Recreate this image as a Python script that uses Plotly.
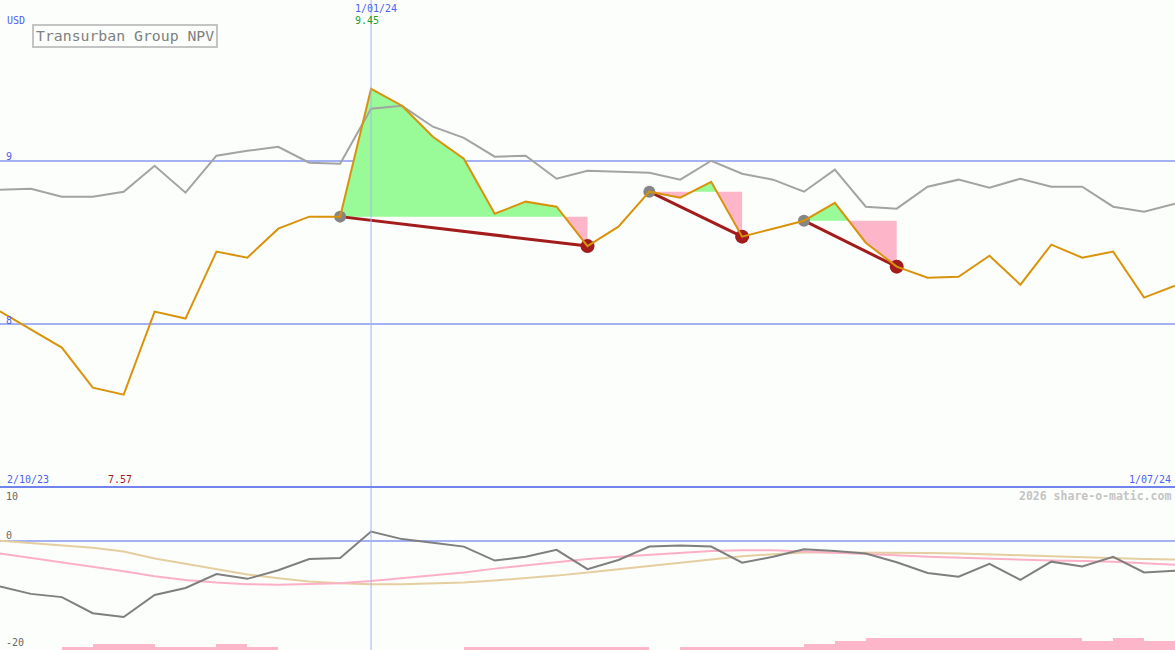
import pandas as pd
import plotly.graph_objects as go
from plotly.subplots import make_subplots

# ---------------- data ----------------
dates = list(pd.date_range("2023-10-09", periods=39, freq="7D"))

price = [8.079, 7.966, 7.856, 7.610, 7.567, 8.077, 8.034, 8.445, 8.408, 8.586,
         8.660, 8.660, 9.445, 9.341, 9.150, 9.015, 8.678, 8.752, 8.721, 8.479,
         8.598, 8.813, 8.776, 8.874, 8.537, 8.586, 8.635, 8.745, 8.500, 8.353,
         8.285, 8.291, 8.420, 8.242, 8.488, 8.408, 8.445, 8.163, 8.236]

index_line = [8.825, 8.831, 8.782, 8.782, 8.813, 8.972, 8.807, 9.034, 9.064, 9.089,
              8.991, 8.985, 9.322, 9.340, 9.212, 9.144, 9.028, 9.034, 8.893, 8.942,
              8.936, 8.929, 8.887, 9.003, 8.923, 8.887, 8.813, 8.948, 8.721, 8.709,
              8.844, 8.887, 8.837, 8.893, 8.844, 8.844, 8.721, 8.690, 8.739]

pattern_start = [11, 21, 26]
pattern_end = [19, 24, 29]

osc = [-8.5, -9.9, -10.5, -13.5, -14.2, -10.1, -8.8, -6.2, -7.1, -5.5,
       -3.4, -3.2, 1.7, 0.3, -0.4, -1.1, -3.7, -3.0, -1.7, -5.3,
       -3.6, -1.1, -0.9, -1.1, -4.1, -3.0, -1.6, -1.9, -2.4, -4.0,
       -6.0, -6.7, -4.3, -7.3, -3.9, -4.8, -3.0, -5.9, -5.6]

osc_fast = [-2.4, -3.2, -4.0, -4.9, -5.7, -6.6, -7.3, -7.8, -8.1, -8.2,
            -8.1, -7.9, -7.5, -7.0, -6.4, -5.9, -5.2, -4.6, -4.0, -3.4,
            -3.0, -2.6, -2.2, -1.9, -1.8, -1.8, -2.0, -2.2, -2.4, -2.7,
            -3.0, -3.2, -3.4, -3.6, -3.7, -3.8, -3.9, -4.2, -4.5]

osc_slow = [0.0, -0.4, -0.8, -1.3, -2.0, -3.3, -4.3, -5.3, -6.3, -7.0,
            -7.6, -7.9, -8.1, -8.1, -8.0, -7.8, -7.4, -7.0, -6.5, -5.9,
            -5.3, -4.6, -4.0, -3.4, -2.9, -2.5, -2.2, -2.2, -2.2, -2.2,
            -2.3, -2.4, -2.5, -2.7, -2.9, -3.1, -3.3, -3.4, -3.5]

signal_level = [0, 0, 1, 2, 2, 1, 1, 2, 1, 0,
                0, 0, 0, 0, 0, 1, 1, 1, 1, 1,
                1, 0, 1, 1, 1, 1, 2, 3, 4, 4,
                4, 4, 4, 4, 4, 3, 4, 3, 0]

y_ticks_main = [8, 9]
y_ticks_low = [10, 0, -20]

# ---------------- style ----------------
BG = "#fcfefc"
BLUE_GRID = "#a4b2f4"
BLUE_TXT = "#4f5ff0"
ORANGE = "#d9930b"
GRAY = "#a3a3a3"
DARK_GRAY = "#7f7f7f"
PINK = "#fdb5c9"
GREEN = "#98fb98"
TAN = "#e5cea0"
DARK_RED = "#a31c1c"
FONT = "DejaVu Sans Mono"

MAIN_RANGE = [7.0, 9.99]
LOW_RANGE = [-20.35, 10]
W, H = 1175, 650
SPLIT = 487

fig = make_subplots(rows=2, cols=1, shared_xaxes=True, vertical_spacing=0,
                    row_heights=[SPLIT / H, (H - SPLIT) / H])

# ---------------- pattern fills ----------------
for s, e in zip(pattern_start, pattern_end):
    b = price[s]
    xs = [dates[s]]
    ys = [price[s]]
    for i in range(s, e):
        d0, d1 = price[i] - b, price[i + 1] - b
        if d0 * d1 < 0:
            f = d0 / (d0 - d1)
            xs.append(dates[i] + (dates[i + 1] - dates[i]) * f)
            ys.append(b)
        xs.append(dates[i + 1])
        ys.append(price[i + 1])
    up = [max(v, b) for v in ys]
    dn = [min(v, b) for v in ys]
    for arr, col in ((up, GREEN), (dn, PINK)):
        fig.add_trace(go.Scatter(x=xs + xs[::-1], y=arr + [b] * len(xs),
                                 fill="toself", fillcolor=col, mode="lines",
                                 line=dict(width=0), hoverinfo="skip",
                                 showlegend=False), row=1, col=1)

# index / comparison line
fig.add_trace(go.Scatter(x=dates, y=index_line, mode="lines",
                         line=dict(color=GRAY, width=2), showlegend=False,
                         hoverinfo="skip"), row=1, col=1)

# pattern connector lines
for s, e in zip(pattern_start, pattern_end):
    fig.add_trace(go.Scatter(x=[dates[s], dates[e]], y=[price[s], price[e]],
                             mode="lines", line=dict(color=DARK_RED, width=3),
                             showlegend=False, hoverinfo="skip"), row=1, col=1)

fig.add_trace(go.Scatter(x=[dates[i] for i in pattern_start],
                         y=[price[i] for i in pattern_start], mode="markers",
                         marker=dict(color="#858585", size=12),
                         showlegend=False, hoverinfo="skip"), row=1, col=1)
fig.add_trace(go.Scatter(x=[dates[i] for i in pattern_end],
                         y=[price[i] for i in pattern_end], mode="markers",
                         marker=dict(color=DARK_RED, size=14),
                         showlegend=False, hoverinfo="skip"), row=1, col=1)

# price line
fig.add_trace(go.Scatter(x=dates, y=price, mode="lines",
                         line=dict(color=ORANGE, width=2), showlegend=False,
                         hovertemplate="%{x|%d/%m/%y}: %{y:.2f}<extra></extra>"),
              row=1, col=1)

# ---------------- lower panel ----------------
week = pd.Timedelta(days=7)
bar_x = [d + week / 2 for d in dates]
bar_h = [lv * 0.56 for lv in signal_level]
fig.add_trace(go.Bar(x=bar_x, y=bar_h, base=LOW_RANGE[0],
                     width=week.total_seconds() * 1000,
                     marker=dict(color=PINK, line=dict(width=0)),
                     showlegend=False, hoverinfo="skip"), row=2, col=1)

fig.add_trace(go.Scatter(x=dates, y=osc_slow, mode="lines",
                         line=dict(color=TAN, width=2), showlegend=False,
                         hoverinfo="skip"), row=2, col=1)
fig.add_trace(go.Scatter(x=dates, y=osc_fast, mode="lines",
                         line=dict(color="#fcb0c8", width=2), showlegend=False,
                         hoverinfo="skip"), row=2, col=1)
fig.add_trace(go.Scatter(x=dates, y=osc, mode="lines",
                         line=dict(color=DARK_GRAY, width=2), showlegend=False,
                         hoverinfo="skip"), row=2, col=1)

# ---------------- axes ----------------
xr = [dates[0], dates[-1]]
for r in (1, 2):
    fig.update_xaxes(range=xr, showgrid=False, zeroline=False, showticklabels=False,
                     ticks="", showline=False, row=r, col=1)
fig.update_yaxes(range=MAIN_RANGE, tickvals=y_ticks_main, showticklabels=False,
                 gridcolor=BLUE_GRID, gridwidth=2, zeroline=False, ticks="",
                 row=1, col=1)
fig.update_yaxes(range=LOW_RANGE, tickvals=[0], showticklabels=False,
                 gridcolor=BLUE_GRID, gridwidth=2, zeroline=False, ticks="",
                 row=2, col=1)
fig.update_layout(yaxis=dict(domain=[1 - SPLIT / H, 1]),
                  yaxis2=dict(domain=[0, 1 - SPLIT / H]))

# vertical marker line at the peak date
peak_i = price.index(max(price))
min_i = price.index(min(price))
fig.add_shape(type="line", xref="x", yref="paper", x0=dates[peak_i], x1=dates[peak_i],
              y0=0, y1=1, line=dict(color="#a3b3f8", width=1), layer="above")
# separator between panels
fig.add_shape(type="line", xref="paper", yref="paper", x0=0, x1=1,
              y0=1 - SPLIT / H, y1=1 - SPLIT / H, line=dict(color="#7184ee", width=2))
# title box
fig.add_shape(type="rect", xref="paper", yref="paper",
              x0=33 / W, x1=217 / W, y0=1 - 47 / H, y1=1 - 25 / H,
              line=dict(color="#c4c4c4", width=2), fillcolor=BG)


def ann(text, px, py, color, size=10, anchor="left", bold=False):
    fig.add_annotation(text=f"<b>{text}</b>" if bold else text,
                       x=px / W, y=1 - py / H, xref="paper", yref="paper",
                       xanchor=anchor, yanchor="middle", showarrow=False,
                       font=dict(family=FONT, size=size, color=color))


fmt = lambda d: f"{d.day}/{d.month:02d}/{d.strftime('%y')}"
ann("Transurban Group NPV", 125, 36, "#808080", size=14.8, anchor="center")
ann("USD", 5, 21, BLUE_TXT)
ann(fmt(dates[peak_i]), 353, 9, BLUE_TXT)
ann(f"{price[peak_i]:.2f}", 353, 21, "#1f9f1f")
ann("2/10/23", 5, 479, BLUE_TXT)
ann(f"{price[min_i]:.2f}", 106, 479, "#a31c1c")
ann(fmt(dates[-1]), 1173, 479, BLUE_TXT, anchor="right")
ann("2026 share-o-matic.com", 1173, 496, "#c4c4c4", size=11.5, anchor="right", bold=True)
for v, py in zip(y_ticks_main, [320, 156]):
    ann(str(v), 4, py, BLUE_TXT)
for v, py in zip(y_ticks_low, [496, 535, 642]):
    ann(str(v), 4, py, "#666666")

fig.update_layout(width=W, height=H, margin=dict(l=0, r=0, t=0, b=0),
                  paper_bgcolor=BG, plot_bgcolor=BG, showlegend=False,
                  bargap=0, barmode="overlay")

fig.write_html("out.html", config={"displayModeBar": False},
               post_script="document.body.style.margin='0';"
                           "document.body.style.background='" + BG + "';")
